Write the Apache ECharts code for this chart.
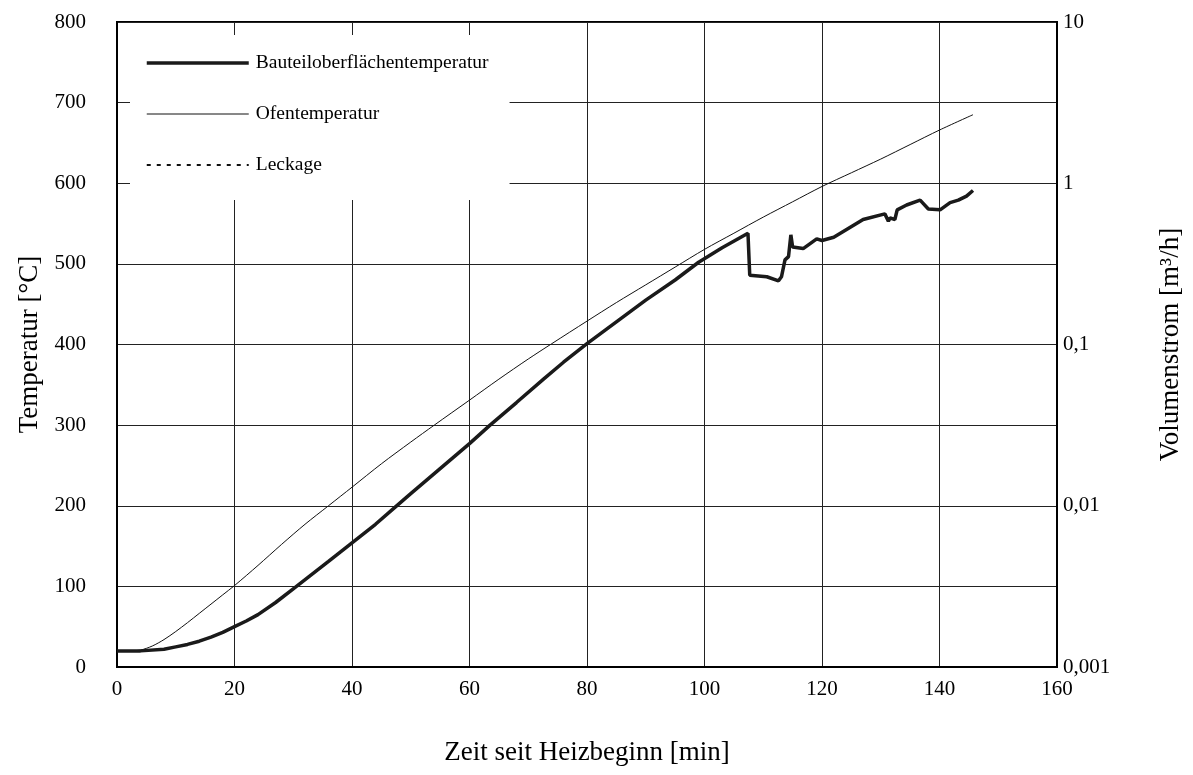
<!DOCTYPE html>
<html>
<head>
<meta charset="utf-8">
<script src="https://cdn.jsdelivr.net/npm/echarts@6/dist/echarts.min.js"></script>
<style>html,body{margin:0;padding:0;background:#fff}#c{width:1193px;height:775px}</style>
</head>
<body>
<div id="c"></div>
<script>
// Zeit [min], Temperatur [°C]
const bauteilTime = [0,4,8,10,12,14,16,18,20,22,24,27,30,33,36,40,44,47.3,50,55,60,63.5,68,72.6,76,80,85,90,95,99,103,107.4,107.7,110.6,112.6,113.1,113.7,114.3,114.7,115,116.8,119.1,120,122,127,130.7,131.3,131.6,132.4,132.8,134.4,136.7,138.1,140.1,141.8,143.2,144.6,145.7];
const bauteilTemp = [20,20,22,25,28,32,37,43,50,57,65,80,97,114,131,154,177,198,215,246,277,300,328,357,378,401,428,455,480,502,520,538,486,484,479,484,505,509,536,521,519,531,529,533,555,562,553,557,555,567,573,579,568,567,576,579,584,591];
const ofenTime = [0,2,4,6,8,10,12,14,16,18,20,24,28,32,36,40,45,50,54,60,65,70,74,80,85,90,95,100,105,110,115,120,125,130,135,140,145.7];
const ofenTemp = [20,20,21,26,34,44,55,66.5,78,89.5,101,126,152,177,200,223,252,279,300,331,357,382,401,429,452,474,496,518,538,558,577,596,613,630,648,666,685];
const leckageTime = [];
const leckageVol = [];
const xTicks = [0,20,40,60,80,100,120,140,160];
const yTicks = [0,100,200,300,400,500,600,700,800];
const rightTickLabels = ["0,001","0,01","0,1","1","10"];
const seriesNames = ["Bauteiloberflächentemperatur","Ofentemperatur","Leckage"];

const zip = (a,b) => a.map((v,i)=>[v,b[i]]);
const FONT = "'Liberation Serif','Times New Roman',serif";

const chart = echarts.init(document.getElementById('c'));
chart.setOption({
  animation:false,
  backgroundColor:'#fff',
  textStyle:{fontFamily:FONT,color:'#000'},
  grid:{left:117,right:136,top:22,bottom:108,show:true,borderColor:'#000',borderWidth:2,backgroundColor:'transparent'},
  legend:{
    orient:'vertical',left:130,top:35,
    backgroundColor:'#fff',
    padding:[18,21,25,15],
    itemWidth:102,itemHeight:14,itemGap:31,
    itemStyle:{opacity:0},
    textStyle:{fontFamily:FONT,fontSize:19.5,color:'#000',padding:[0,0,0,2]},
    data:[
      {name:seriesNames[0],lineStyle:{width:3.5,color:'#1a1a1a'}},
      {name:seriesNames[1],lineStyle:{width:1,color:'#111'}},
      {name:seriesNames[2],lineStyle:{width:2,color:'#111',type:[4,6]}}
    ]
  },
  xAxis:{
    type:'value',min:xTicks[0],max:xTicks[xTicks.length-1],interval:20,
    name:'Zeit seit Heizbeginn [min]',nameLocation:'middle',nameGap:72,
    nameTextStyle:{fontFamily:FONT,fontSize:27,color:'#000'},
    axisLine:{show:true,lineStyle:{color:'#000',width:2}},
    axisTick:{show:false},
    axisLabel:{fontFamily:FONT,fontSize:21,color:'#000',margin:12},
    splitLine:{show:true,lineStyle:{color:'#222',width:1}}
  },
  yAxis:[{
    type:'value',min:yTicks[0],max:yTicks[yTicks.length-1],interval:100,
    name:'Temperatur [°C]',nameLocation:'middle',nameGap:73,nameRotate:90,
    nameTextStyle:{fontFamily:FONT,fontSize:27,color:'#000'},
    axisLine:{show:true,lineStyle:{color:'#000',width:2}},
    axisTick:{show:false},
    axisLabel:{fontFamily:FONT,fontSize:21,color:'#000',margin:31},
    splitLine:{show:true,lineStyle:{color:'#222',width:1}}
  },{
    type:'log',logBase:10,min:0.001,max:10,position:'right',
    name:'Volumenstrom [m³/h]',nameLocation:'middle',nameGap:100,nameRotate:90,
    nameTextStyle:{fontFamily:FONT,fontSize:27,color:'#000'},
    axisLine:{show:true,lineStyle:{color:'#000',width:2}},
    axisTick:{show:false},
    axisLabel:{fontFamily:FONT,fontSize:21,color:'#000',margin:6,
      formatter:v=>rightTickLabels[Math.round(Math.log10(v))+3]},
    splitLine:{show:false}
  }],
  series:[
    {name:seriesNames[0],type:'line',symbol:'none',data:zip(bauteilTime,bauteilTemp),
      lineStyle:{color:'#1a1a1a',width:3.5},itemStyle:{color:'#1a1a1a'},z:4},
    {name:seriesNames[1],type:'line',symbol:'none',smooth:0.3,data:zip(ofenTime,ofenTemp),
      lineStyle:{color:'#111',width:1},itemStyle:{color:'#111'},z:3},
    {name:seriesNames[2],type:'line',symbol:'none',yAxisIndex:1,data:zip(leckageTime,leckageVol),
      lineStyle:{color:'#111',width:2,type:[4,6]},itemStyle:{color:'#111'}}
  ]
});
</script>
</body>
</html>
